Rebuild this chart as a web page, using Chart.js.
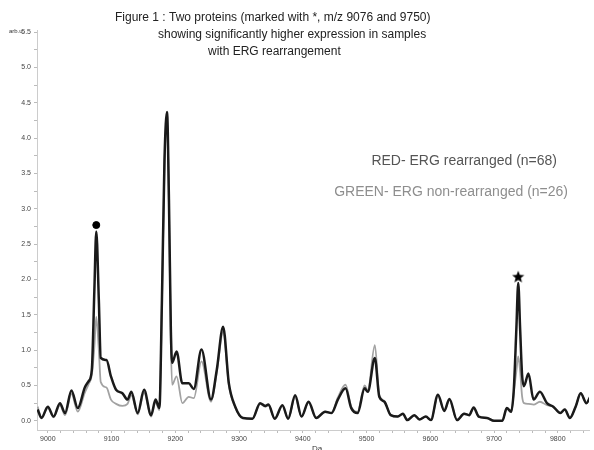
<!DOCTYPE html>
<html>
<head>
<meta charset="utf-8">
<script src="https://cdn.jsdelivr.net/npm/chart.js@4/dist/chart.umd.min.js"></script>
<style>
  html, body { margin: 0; padding: 0; background: #fff; }
  #wrap { width: 594px; height: 450px; position: relative; }
</style>
</head>
<body>
<div id="wrap"><canvas id="spectrum"></canvas></div>
<script>
// m/z positions (Da)
const mz = [8984, 8990, 9000, 9009, 9019, 9027, 9037, 9047, 9058, 9064,
  9069, 9073, 9076, 9080, 9083, 9092, 9099, 9107, 9117, 9125,
  9131, 9141, 9151, 9162, 9169, 9175, 9179, 9183, 9187, 9190,
  9193, 9195, 9202, 9211, 9221, 9229, 9241, 9256, 9265, 9275,
  9284, 9294, 9306, 9321, 9333, 9341, 9346, 9356, 9368, 9377,
  9388, 9398, 9409, 9421, 9435, 9445, 9455, 9467, 9476, 9486,
  9497, 9502, 9513, 9520, 9528, 9538, 9549, 9557, 9564, 9575,
  9583, 9593, 9601, 9612, 9622, 9630, 9642, 9653, 9661, 9668,
  9676, 9689, 9700, 9713, 9720, 9727, 9731, 9735, 9738, 9741,
  9744, 9747, 9754, 9762, 9772, 9783, 9793, 9804, 9811, 9819,
  9828, 9836, 9845, 9851];

// ERG rearranged (dark trace)
const redValues = [0.16, 0.04, 0.20, 0.06, 0.25, 0.11, 0.43, 0.18, 0.47, 0.56,
  0.72, 1.85, 2.68, 1.71, 0.89, 0.86, 0.63, 0.44, 0.39, 0.30,
  0.41, 0.11, 0.44, 0.08, 0.30, 0.18, 1.71, 3.69, 4.37, 3.13,
  1.29, 0.82, 0.98, 0.53, 0.53, 0.45, 1.01, 0.30, 0.72, 1.33,
  0.53, 0.20, 0.04, 0.03, 0.25, 0.21, 0.23, 0.03, 0.22, 0.03,
  0.36, 0.06, 0.27, 0.04, 0.13, 0.11, 0.30, 0.46, 0.18, 0.11,
  0.46, 0.41, 0.89, 0.34, 0.27, 0.08, 0.06, 0.10, 0.01, 0.08,
  0.02, 0.06, 0.01, 0.37, 0.14, 0.31, 0.01, 0.10, 0.08, 0.19,
  0.06, 0.04, 0.00, 0.00, 0.18, 0.13, 0.44, 1.29, 1.95, 1.29,
  0.65, 0.49, 0.67, 0.30, 0.41, 0.25, 0.20, 0.11, 0.16, 0.04,
  0.20, 0.39, 0.25, 0.34];

// ERG non-rearranged (grey trace)
const greenValues = [0.20, 0.05, 0.18, 0.05, 0.22, 0.08, 0.38, 0.13, 0.40, 0.52,
  0.65, 1.05, 1.47, 1.00, 0.55, 0.47, 0.30, 0.24, 0.21, 0.24,
  0.36, 0.09, 0.40, 0.06, 0.26, 0.15, 1.65, 3.60, 4.33, 3.05,
  1.10, 0.51, 0.63, 0.25, 0.34, 0.32, 0.84, 0.27, 0.68, 1.26,
  0.50, 0.19, 0.04, 0.03, 0.24, 0.20, 0.22, 0.03, 0.21, 0.03,
  0.34, 0.06, 0.26, 0.04, 0.13, 0.11, 0.33, 0.51, 0.20, 0.13,
  0.50, 0.43, 1.07, 0.37, 0.28, 0.08, 0.06, 0.10, 0.01, 0.08,
  0.02, 0.06, 0.01, 0.36, 0.14, 0.30, 0.01, 0.10, 0.08, 0.18,
  0.06, 0.04, 0.00, 0.00, 0.17, 0.12, 0.40, 0.70, 0.91, 0.70,
  0.35, 0.25, 0.24, 0.23, 0.27, 0.22, 0.20, 0.11, 0.16, 0.04,
  0.20, 0.39, 0.25, 0.34];

// the two marked proteins
const markerMz = [9076, 9738];
const markerValues = [2.77, 2.04];

const titleLines = [
  "Figure 1 : Two proteins (marked with *, m/z 9076 and 9750)",
  "showing significantly higher expression in samples",
  "with ERG rearrangement"
];
const noteLines = ["RED- ERG rearranged (n=68)", "GREEN- ERG non-rearranged (n=26)"];

const FONT = "'Liberation Sans', Arial, sans-serif";

// filled five point star for the second marker
const star = document.createElement("canvas");
star.width = 14; star.height = 14;
(function () {
  const c = star.getContext("2d");
  c.beginPath();
  for (let i = 0; i < 10; i++) {
    const r = i % 2 ? 2.8 : 6.4;
    const a = -Math.PI / 2 + i * Math.PI / 5;
    c.lineTo(7 + r * Math.cos(a), 7.5 + r * Math.sin(a));
  }
  c.closePath();
  c.fillStyle = "#000";
  c.fill();
})();

const textPlugin = {
  id: "texts",
  afterDraw(chart) {
    const ctx = chart.ctx;
    ctx.save();
    ctx.textBaseline = "middle";
    ctx.fillStyle = "#222";
    ctx.font = "12px " + FONT;
    ctx.fillText(titleLines[0], 115, 18);
    ctx.fillText(titleLines[1], 158, 35);
    ctx.fillText(titleLines[2], 208, 52);

    ctx.font = "14px " + FONT;
    ctx.textAlign = "right";
    ctx.fillStyle = "#555";
    ctx.fillText(noteLines[0], 557, 161);
    ctx.fillStyle = "#8e8e8e";
    ctx.fillText(noteLines[1], 568, 192);

    ctx.textAlign = "left";
    ctx.fillStyle = "#333";
    ctx.font = "6px " + FONT;
    ctx.fillText("arb.u.", 9, 31);
    ctx.font = "8px " + FONT;
    ctx.fillText("Da", 312, 449);
    ctx.restore();
  }
};

new Chart(document.getElementById("spectrum"), {
  type: "line",
  data: {
    datasets: [
      {
        label: "ERG rearranged",
        data: mz.map((x, i) => ({ x: x, y: redValues[i] })),
        borderColor: "#1a1a1a",
        borderWidth: 2.5,
        pointRadius: 0,
        cubicInterpolationMode: "monotone"
      },
      {
        label: "ERG non-rearranged",
        data: mz.map((x, i) => ({ x: x, y: greenValues[i] })),
        borderColor: "#a2a2a2",
        borderWidth: 1.8,
        pointRadius: 0,
        cubicInterpolationMode: "monotone"
      },
      {
        label: "marked",
        type: "scatter",
        data: markerMz.map((x, i) => ({ x: x, y: markerValues[i] })),
        pointStyle: ["circle", star],
        pointRadius: 3.5,
        backgroundColor: "#000",
        borderColor: "#000",
        showLine: false
      }
    ]
  },
  options: {
    responsive: true,
    maintainAspectRatio: false,
    animation: false,
    layout: { padding: { top: 30, right: 0, left: 0, bottom: 0 } },
    plugins: { legend: { display: false }, title: { display: false }, tooltip: { enabled: false } },
    scales: {
      x: {
        type: "linear",
        min: 8983,
        max: 9849,
        grid: { drawOnChartArea: false, color: "#bbb", tickLength: 3 },
        border: { color: "#ccc" },
        ticks: {
          stepSize: 20,
          includeBounds: false,
          autoSkip: false,
          maxRotation: 0,
          padding: 2,
          color: "#444",
          font: { family: FONT, size: 7 },
          callback: (v) => (v % 100 === 0 ? String(v) : "")
        },
        afterFit: (s) => { s.height = 20; }
      },
      y: {
        min: -0.13,
        max: 5.53,
        grid: { drawOnChartArea: false, color: "#bbb", tickLength: 3 },
        border: { color: "#ccc" },
        ticks: {
          stepSize: 0.25,
          includeBounds: false,
          autoSkip: false,
          padding: 3,
          color: "#444",
          font: { family: FONT, size: 7 },
          callback: (v) => (Math.abs(v * 2 - Math.round(v * 2)) < 1e-6 ? v.toFixed(1) : "")
        },
        afterFit: (s) => { s.width = 37; }
      }
    }
  },
  plugins: [textPlugin]
});
</script>
</body>
</html>
